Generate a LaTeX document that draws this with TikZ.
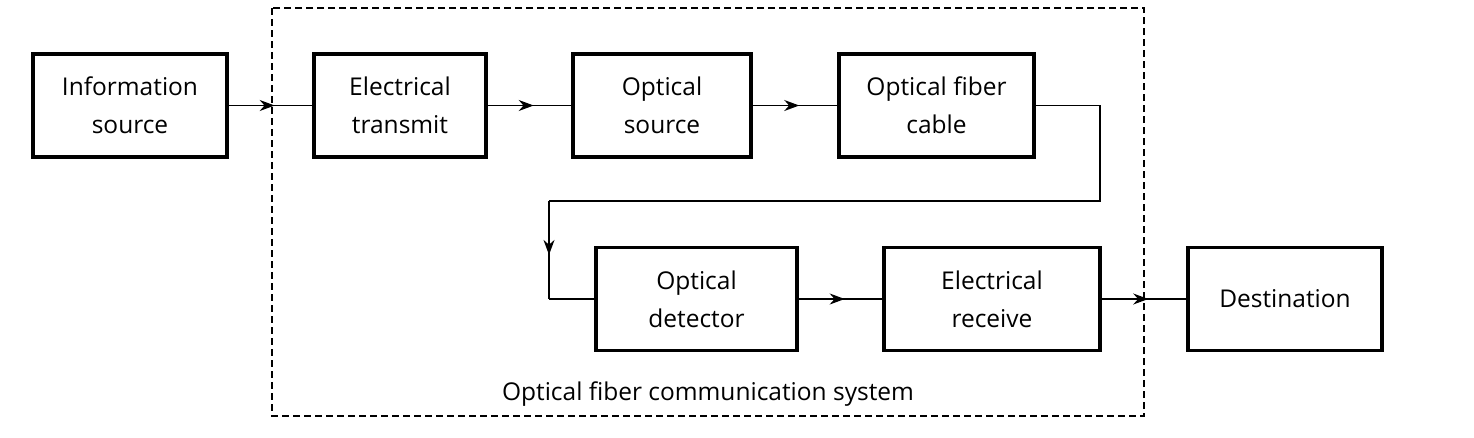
\documentclass[tikz,border=0pt]{standalone}
\usepackage{fontspec}
\setmainfont{Open Sans}
\usetikzlibrary{arrows.meta,decorations.markings}
\begin{document}
\begin{tikzpicture}[x=1pt,y=-1pt,
  box/.style={draw,line width=3.4pt,minimum width=#1,minimum height=103pt,align=center,font=\fontsize{24.5}{38}\selectfont,inner sep=0pt},
  conn/.style={line width=1.6pt},
  mid/.style={postaction={decorate},decoration={markings,mark=at position #1 with {\arrow{Stealth[length=15pt,width=11pt]}}}}]
\useasboundingbox (0,0) rectangle (1474,437);
\draw[dash pattern=on 7pt off 4pt,line width=1.4pt] (272,8) rectangle (1144,416);
\node[box=194pt] (is) at (130,105.5) {Information\\source};
\node[box=172pt] (et) at (400,105.5) {Electrical\\transmit};
\node[box=178pt] (os) at (662,105.5) {Optical\\source};
\node[box=195pt] (fc) at (936.5,105.5) {Optical fiber\\cable};
\node[box=201pt] (od) at (696.5,299) {Optical\\detector};
\node[box=216pt] (er) at (992,299) {Electrical\\receive};
\node[box=194pt] (de) at (1285,299) {Destination};
\node[font=\fontsize{24.5}{28}\selectfont] (lbl) at (708,394) {Optical fiber communication system};
\coordinate (c1) at (1100,201);
\coordinate (c2) at (549,201);
\coordinate (c3) at (549,299);
\draw[conn,mid=0.55] (is) -- (et);
\draw[conn,mid=0.55] (et) -- (os);
\draw[conn,mid=0.55] (os) -- (fc);
\draw[conn] (fc.east) -| (c1) -- (c2);
\draw[conn,mid=0.55] (c2) -- (c3);
\draw[conn] (c3) -- (od.west);
\draw[conn,mid=0.55] (od) -- (er);
\draw[conn,mid=0.55] (er) -- (de);
\end{tikzpicture}
\end{document}
